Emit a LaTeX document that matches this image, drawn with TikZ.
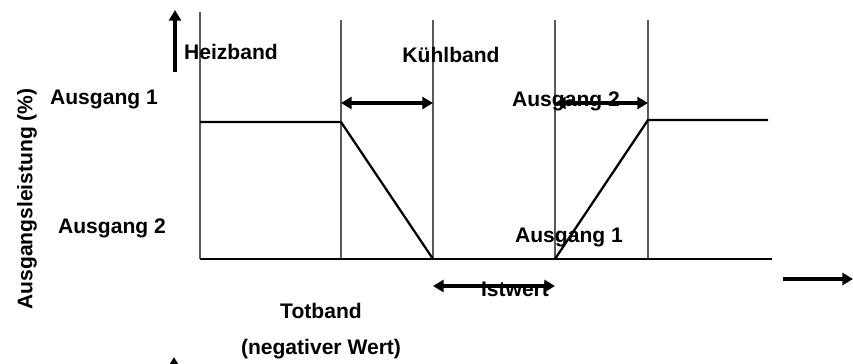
\documentclass[tikz,border=0pt]{standalone}
\usepackage{fontspec}
\setmainfont{Liberation Sans}
\usetikzlibrary{arrows.meta}

\begin{document}
\begin{tikzpicture}[
    x=0.75pt, y=-0.75pt,
    every node/.style={font=\bfseries\fontsize{15.8}{19}\selectfont, inner sep=0pt},
]

% ---------------------------------------------------------------- colours
\definecolor{bandcolor}{HTML}{5A5A5A}   % the thin band limits
\definecolor{inkcolor}{HTML}{000000}

\tikzset{
    band/.style={draw=bandcolor, line width=0.8pt},
    curve/.style={draw=inkcolor, line width=1.7pt},
    baseline/.style={draw=inkcolor, line width=2.1pt},
    fat/.style={draw=inkcolor, line width=3pt, -{Triangle[length=8pt, width=9pt]}},
    fatboth/.style={fat, {Triangle[length=8pt, width=9pt]}-{Triangle[length=8pt, width=9pt]}},
    lbl/.style={anchor=base},
}

% ================================================================
% pixel grid: 853 x 364, y runs downwards
%   band limits  x = 200, 341, 433, 555, 648
%   0 %          y = 259
%   100 %        y = 121
% ================================================================
\useasboundingbox (0,0) rectangle (853,364);
\clip (0,0) rectangle (853,364);

% ----------------------------------------------------------------------
% band limits
% ----------------------------------------------------------------------
\coordinate (top0) at (200,12);
\coordinate (bot0) at (200,259);
\draw[band] (top0) -- (bot0);
\foreach \x [count=\i] in {341,433,555,648} {
    \coordinate (top\i) at (\x,20);
    \coordinate (bot\i) at (\x,259);
    \draw[band] (top\i) -- (bot\i);
}

% ----------------------------------------------------------------------
% output curves
% ----------------------------------------------------------------------
\coordinate (axisend) at (772,259);
\draw[baseline] (bot0) -- (axisend);

\coordinate (heatstart) at (200,122);
\coordinate (heatknee) at (341,122);
\draw[curve] (heatstart) -- (heatknee) -- (bot2);

\coordinate (coolknee) at (648,120);
\coordinate (coolend) at (768,120);
\draw[curve] (bot3) -- (coolknee) -- (coolend);

% ----------------------------------------------------------------------
% labels
% ----------------------------------------------------------------------
\node[lbl] (heizband) at (231,59) {Heizband};
\node[lbl] (kuehlband) at (451,62) {Kühlband};
\node[lbl] (ausEinsL) at (104,104) {Ausgang 1};
\node[lbl] (ausZweiL) at (112,233) {Ausgang 2};
\node[lbl] (ausZweiR) at (566,106) {Ausgang 2};
\node[lbl] (ausEinsR) at (569,242) {Ausgang 1};
\node[lbl] (istwert) at (515,296) {Istwert};
\node[lbl] (totband) at (321,318) {Totband};
\node[lbl] (negwert) at (321,354) {(negativer Wert)};
\node[rotate=90] (ylabel) at (27,199) {Ausgangsleistung (\%)};

% ----------------------------------------------------------------------
% arrows
% ----------------------------------------------------------------------
\coordinate (heizfoot) at (175,72);
\coordinate (heiztip) at (175,10);
\draw[fat] (heizfoot) -- (heiztip);

\coordinate (kuehlL) at (341,103);
\coordinate (kuehlR) at (433,103);
\draw[fatboth] (kuehlL) -- (kuehlR);

\coordinate (zweiL) at (555,103);
\coordinate (zweiR) at (648,103);
\draw[fatboth] (zweiL) -- (zweiR);

\coordinate (istL) at (433,286);
\coordinate (istR) at (555,286);
\draw[fatboth] (istL) -- (istR);

\coordinate (xfoot) at (783,279);
\coordinate (xtip) at (853,279);
\draw[fat] (xfoot) -- (xtip);

\coordinate (lowfoot) at (174,395);
\coordinate (lowtip) at (174,357);
\draw[fat] (lowfoot) -- (lowtip);

\end{tikzpicture}
\end{document}
